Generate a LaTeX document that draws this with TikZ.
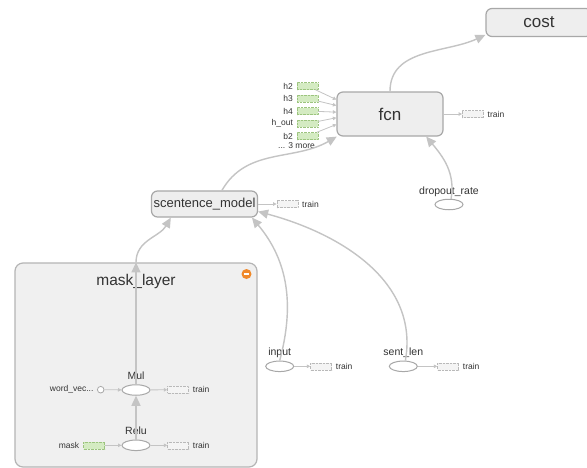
\documentclass[tikz,border=0pt]{standalone}
\usepackage{xcolor}
\usepackage{fontspec}
\setmainfont{Liberation Sans}
\usepackage{tikz}
\usetikzlibrary{arrows.meta, positioning, shapes.geometric}

\definecolor{edgegray}{HTML}{C4C4C4}
\definecolor{boxline}{HTML}{A8A8A8}
\definecolor{boxfill}{HTML}{EEEEEE}
\definecolor{groupfill}{HTML}{F0F0F0}
\definecolor{txtgray}{HTML}{333333}
\definecolor{constfill}{HTML}{D4EBC2}
\definecolor{constline}{HTML}{9CC47E}
\definecolor{trainfill}{HTML}{F4F4F4}
\definecolor{minusorange}{HTML}{F0892A}

\begin{document}
\begin{tikzpicture}[
    x=1pt, y=1pt,
    every node/.style={text=txtgray, inner sep=0pt},
    opbox/.style={draw=boxline, fill=boxfill, rounded corners=6pt, line width=1.2pt, minimum width=106pt},
    opnode/.style={ellipse, draw=boxline, fill=white, line width=1pt, minimum width=28pt, minimum height=10.5pt},
    constbox/.style={draw=constline, fill=constfill, densely dotted, minimum width=21pt, minimum height=7pt},
    trainbox/.style={draw=boxline!80, fill=trainfill, densely dotted, minimum width=21pt, minimum height=7pt},
    oplabel/.style={font=\fontsize{10.5}{12}\selectfont},
    smalltxt/.style={font=\fontsize{8.5}{10}\selectfont},
    flow/.style={draw=edgegray, line width=1.4pt, -{Triangle[length=10pt, width=9pt]}},
    aux/.style={draw=edgegray, line width=0.8pt, -{Triangle[length=3.5pt, width=3.5pt]}}
]
\clip (0,0) rectangle (587,-467);
\fill[white] (0,0) rectangle (587,-467);

% Group
\node[draw=boxline!85, fill=groupfill, rounded corners=8pt, line width=1.2pt,
      minimum width=242pt, minimum height=204pt] (masklayer) at (136,-365) {};
\node[font=\fontsize{15.5}{18}\selectfont] (masktitle) at (136,-281) {mask\_layer};
\node[circle, fill=minusorange, minimum size=10pt] (collapse) at (246.5,-274) {};
\draw[white, line width=1.6pt] ([xshift=2.5pt]collapse.west) -- ([xshift=-2.5pt]collapse.east);

% Nodes
\node[opbox, minimum height=28pt, font=\fontsize{17}{20}\selectfont] (cost) at (539,-22.5) {cost};
\node[opbox, minimum height=44pt, font=\fontsize{17}{20}\selectfont] (fcn) at (390,-114) {fcn};
\node[opbox, minimum height=26pt, font=\fontsize{13}{15}\selectfont] (scentence) at (204.5,-204) {scentence\_model};

\node[opnode] (mul) at (136,-390) {};
\node[oplabel, above=5pt of mul, anchor=base] {Mul};
\node[opnode] (relu) at (136,-445.3) {};
\node[oplabel, above=5pt of relu, anchor=base] {Relu};
\node[opnode] (input) at (279.7,-366.3) {};
\node[oplabel, above=5pt of input, anchor=base] {input};
\node[opnode] (sentlen) at (403.3,-366.3) {};
\node[oplabel, above=5pt of sentlen, anchor=base] {sent\_len};
\node[opnode] (dropout) at (449,-204.5) {};
\node[oplabel, above=4.5pt of dropout, anchor=base] {dropout\_rate};

\node[circle, draw=boxline, fill=white, line width=0.8pt, minimum size=6.6pt] (wordvec) at (100.7,-389.7) {};
\node[smalltxt, left=3.4pt of wordvec] {word\_vec...};
\node[constbox] (maskc) at (94,-445.3) {};
\node[smalltxt, left=4pt of maskc] {mask};

% Constants of fcn
\node[constbox] (h2) at (307.5,-86) {};
\node[smalltxt, left=3.7pt of h2] {h2};
\node[constbox] (h3) at (307.5,-98.5) {};
\node[smalltxt, left=3.7pt of h3] {h3};
\node[constbox] (h4) at (307.5,-111) {};
\node[smalltxt, left=3.7pt of h4] {h4};
\node[constbox] (hout) at (307.5,-123.5) {};
\node[smalltxt, left=3.7pt of hout] {h\_out};
\node[constbox] (b2) at (307.5,-136) {};
\node[smalltxt, left=3.7pt of b2] {b2};
\node[smalltxt] (more) at (296.5,-146) {... 3 more};

% train refs
\node[trainbox, right=18.5pt of fcn] (fcntrain) {};
\node[smalltxt, right=4pt of fcntrain] {train};
\node[trainbox, right=18.5pt of scentence] (sctrain) {};
\node[smalltxt, right=4pt of sctrain] {train};
\node[trainbox] (multrain) at (178,-389.7) {};
\node[smalltxt, right=4pt of multrain] {train};
\node[trainbox] (relutrain) at (178,-445.3) {};
\node[smalltxt, right=4pt of relutrain] {train};
\node[trainbox] (inputtrain) at (321,-366.3) {};
\node[smalltxt, right=4pt of inputtrain] {train};
\node[trainbox] (sentlentrain) at (448,-366.3) {};
\node[smalltxt, right=4pt of sentlentrain] {train};

% Edges
\draw[flow] (mul.north) -- (masklayer.north);
\draw[flow] (relu) -- (mul);
\draw[flow] (masklayer.north) to[out=90, in=240] (scentence.202);
\draw[flow] (scentence.38) to[out=60, in=210] (fcn.203);
\draw[flow] (fcn.north) to[out=90, in=205] (cost.193);
\draw[flow] (dropout.70) to[out=80, in=-50] (fcn.-32);
\draw[flow] (input.north) to[out=75, in=-50] (scentence.-16);
\draw[flow] (sentlen.70) to[out=80, in=-15] (scentence.-8);

\draw[aux] (h2) -- (fcn.165);
\draw[aux] (h3) -- (fcn.171);
\draw[aux] (h4) -- (fcn.178);
\draw[aux] (hout) -- (fcn.184);
\draw[aux] (b2) -- (fcn.191);

\draw[aux] (wordvec) -- (mul);
\draw[aux] (maskc) -- (relu);
\draw[aux] (mul) -- (multrain);
\draw[aux] (relu) -- (relutrain);
\draw[aux] (fcn) -- (fcntrain);
\draw[aux] (scentence) -- (sctrain);
\draw[aux] (input) -- (inputtrain);
\draw[aux] (sentlen) -- (sentlentrain);
\end{tikzpicture}
\end{document}
